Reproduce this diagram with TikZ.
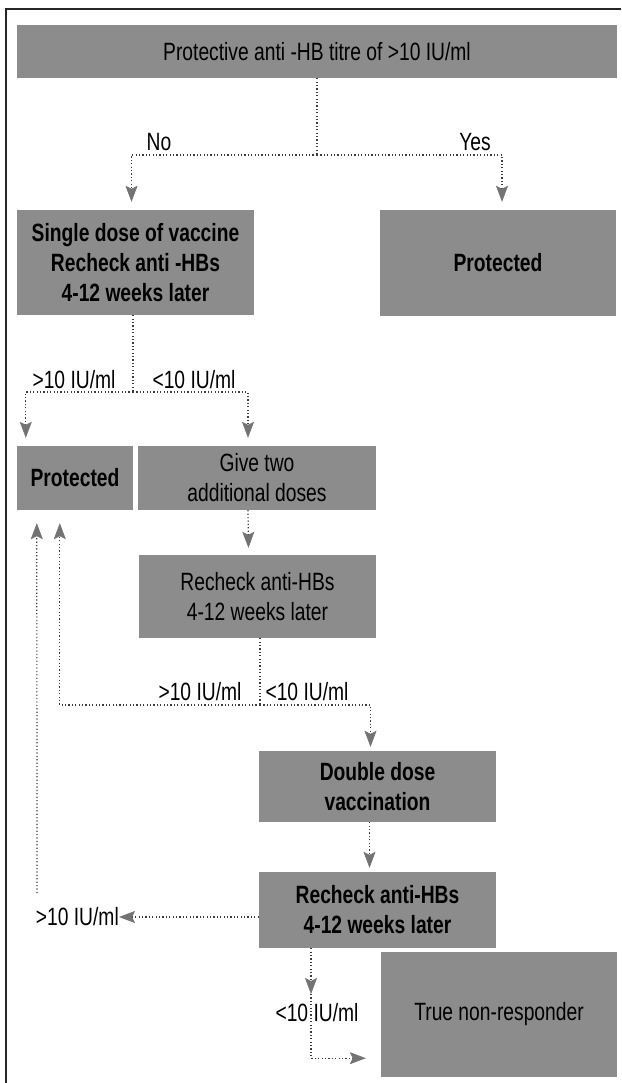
\documentclass[tikz,border=0pt]{standalone}
\usepackage{fontspec}
\setmainfont{Liberation Sans}[FakeStretch=0.77]
\usetikzlibrary{arrows.meta,calc}
\definecolor{boxgray}{RGB}{140,140,140}
\definecolor{tipgray}{RGB}{115,115,115}
\definecolor{linegray}{RGB}{60,60,60}
\begin{document}
\begin{tikzpicture}[x=1pt,y=-1pt,
 box/.style={fill=boxgray, draw=none, inner sep=0pt, align=center, font=\fontsize{25}{30}\selectfont},
 boldbox/.style={box, font=\fontsize{25}{30}\selectfont\bfseries},
 conn/.style={draw=linegray, line width=1.2pt, dash pattern=on 1.2pt off 2.2pt},
 arr/.style={conn, -{Stealth[length=16pt,width=12pt,inset=3pt,line width=0.6pt,color=tipgray,fill=tipgray]}},
 lbl/.style={font=\fontsize{25}{30}\selectfont, inner sep=0pt}]
\useasboundingbox (0,0) rectangle (621,1083);
% frame
\draw[line width=2pt, black!85] (621,9) -- (6,9) -- (6,1083);
% boxes
\node[box, minimum width=600pt, minimum height=53pt] (top) at (317,51.5) {Protective anti -HB titre of >10 IU/ml};
\node[boldbox, minimum width=237pt, minimum height=105pt] (single) at (135.5,262.5) {Single dose of vaccine\\Recheck anti -HBs\\4-12 weeks later};
\node[boldbox, minimum width=236pt, minimum height=106pt] (protR) at (498,263) {Protected};
\node[boldbox, minimum width=116pt, minimum height=64pt] (protL) at (75,478) {Protected};
\node[box, minimum width=238pt, minimum height=64pt] (give) at (257,478) {Give two\\additional doses};
\node[box, minimum width=237pt, minimum height=83pt] (rc1) at (257.5,596.5) {Recheck anti-HBs\\4-12 weeks later};
\node[boldbox, minimum width=237pt, minimum height=71pt] (dbl) at (377.5,786.5) {Double dose\\vaccination};
\node[boldbox, minimum width=237pt, minimum height=76pt] (rc2) at (377.5,910) {Recheck anti-HBs\\4-12 weeks later};
\node[box, minimum width=236pt, minimum height=125pt] (tnr) at (499,1014.5) {True non-responder};
% top split
\coordinate (j1) at (317,155);
\draw[conn] (top.south) -- (j1);
\draw[arr] (j1) -| ($(single.north)+(-4,-8)$);
\draw[arr] (j1) -| ($(protR.north)+(4,-8)$);
\node[lbl] (no) at (159,142) {No};
\node[lbl] (yes) at (475,142) {Yes};
% single dose split
\coordinate (j2) at (133,392);
\draw[conn] (single.south -| j2) -- (j2);
\draw[arr] (j2) -| ($(protL.north west)+(9,-8)$);
\draw[arr] (j2) -| ($(give.north)+(-9,-8)$);
\node[lbl] (l1) at (74,380) {>10 IU/ml};
\node[lbl] (l2) at (194,380) {<10 IU/ml};
% give -> recheck
\draw[arr] ($(give.south)+(-9,0)$) -- ($(rc1.north)+(-9,-7)$);
% recheck 1 split
\coordinate (j3) at (260,705);
\draw[conn] (rc1.south -| j3) -- (j3);
\draw[arr] (j3) -| ($(protL.south west)+(43,13)$);
\draw[arr] (j3) -| ($(dbl.north)+(-7,-4)$);
\node[lbl] (l3) at (200,692) {>10 IU/ml};
\node[lbl] (l4) at (307,692) {<10 IU/ml};
% double -> recheck 2
\draw[arr] ($(dbl.south)+(-8,0)$) -- ($(rc2.north)+(-8,-4)$);
% recheck 2 left
\node[lbl, anchor=east] (gt3) at (119,917) {>10 IU/ml};
\draw[arr] ($(rc2.west)+(0,7)$) -- (gt3.east);
\coordinate (c1) at (37,893);
\draw[arr] (c1) -- ($(protL.south west)+(20,13)$);
% recheck 2 down
\coordinate (a1) at (311,994);
\draw[arr] (rc2.south -| a1) -- (a1);
\draw[arr] (a1) |- ($(tnr.south west)+(-15,-19)$);
\node[lbl] (l5) at (317,1013) {<10 IU/ml};
\end{tikzpicture}
\end{document}
